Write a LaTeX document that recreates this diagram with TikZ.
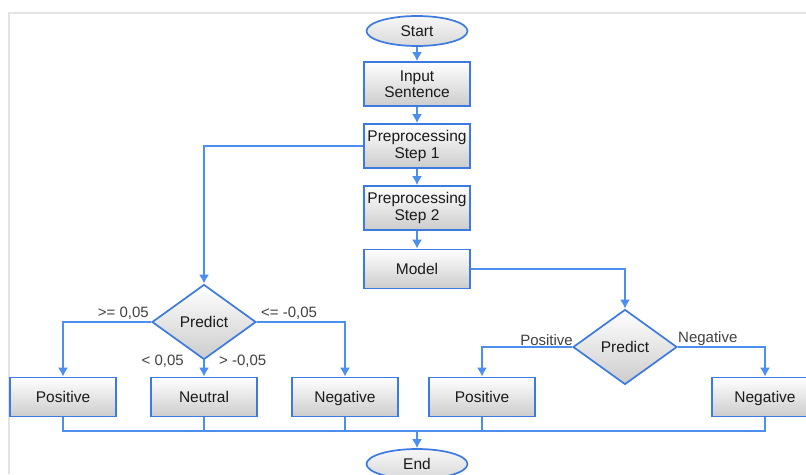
\documentclass[tikz,border=0pt]{standalone}
\usepackage{fontspec}
\setmainfont{Liberation Sans}
\usetikzlibrary{shapes.geometric,arrows.meta}

\definecolor{flowline}{HTML}{4D8FF0}
\definecolor{boxline}{HTML}{3C7AE0}
\definecolor{boxtext}{HTML}{1A1A1A}
\definecolor{labeltext}{HTML}{404040}

\tikzset{
  procbox/.style={draw=boxline, line width=1.7pt, top color=white, bottom color=gray!40,
    minimum width=106pt, minimum height=39pt, align=center, inner sep=1pt,
    text=boxtext, font=\fontsize{15.5}{16.5}\selectfont},
  leafbox/.style={procbox, text height=12pt, text depth=1pt},
  termbox/.style={ellipse, draw=boxline, line width=1.7pt, top color=gray!6, bottom color=gray!30,
    minimum width=101pt, minimum height=30pt, inner sep=0pt,
    text=boxtext, font=\fontsize{15.5}{16.5}\selectfont},
  decbox/.style={diamond, draw=boxline, line width=1.7pt, top color=white, bottom color=gray!40,
    minimum width=104pt, minimum height=75pt, inner sep=0pt,
    text=boxtext, font=\fontsize{15.5}{16.5}\selectfont},
  cond/.style={text=labeltext, inner sep=0pt, font=\fontsize{15}{16}\selectfont},
  flow/.style={flowline, line width=1.6pt, -{Latex[length=9pt,width=10pt]}},
  link/.style={flowline, line width=1.6pt}
}

\begin{document}
\begin{tikzpicture}[x=1pt,y=-1pt]
            \useasboundingbox (0,0) rectangle (806,474);
            \draw[gray!22,line width=2pt] (9,474) -- (9,13) -- (806,13);

            % main column
            \node[termbox] (start) at (417,31) {Start};
            \node[procbox,minimum height=44pt] (input) at (417,84) {Input\\Sentence};
            \node[procbox,minimum height=44pt] (prep1) at (417,146) {Preprocessing\\Step 1};
            \node[procbox,minimum height=44pt] (prep2) at (417,208) {Preprocessing\\Step 2};
            \node[leafbox] (model) at (417,269) {Model};

            % two predictors
            \node[decbox] (predL) at (204,322) {Predict};
            \node[decbox] (predR) at (625,347) {Predict};

            % outcomes
            \node[leafbox] (posL) at (63,397) {Positive};
            \node[leafbox] (neuL) at (204,397) {Neutral};
            \node[leafbox] (negL) at (345,397) {Negative};
            \node[leafbox] (posR) at (482,397) {Positive};
            \node[leafbox] (negR) at (765,397) {Negative};

            \node[termbox] (end) at (417,464) {End};
            \coordinate (merge) at (417,431);

            \draw[flow] (start) -- (input);
            \draw[flow] (input) -- (prep1);
            \draw[flow] (prep1) -- (prep2);
            \draw[flow] (prep2) -- (model);
            \draw[flow] (prep1.west) -| (predL.north);
            \draw[flow] (model.east) -| (predR.north);

            \draw[flow] (predL.west) -| (posL.north);
            \draw[flow] (predL.east) -| (negL.north);
            \draw[flow] (predL.south) -- (neuL.north);
            \draw[flow] (predR.west) -| (posR.north);
            \draw[flow] (predR.east) -| (negR.north);

            \node[cond,anchor=base east] (geL) at (149,317) {>= 0,05};
            \node[cond,anchor=base west] (leL) at (261,317) {<= -0,05};
            \node[cond,anchor=base east] (ltL) at (184,365) {< 0,05};
            \node[cond,anchor=base west] (gtL) at (219,365) {> -0,05};
            \node[cond,anchor=base east] (posLab) at (573,345) {Positive};
            \node[cond,anchor=base west] (negLab) at (678,342) {Negative};

            % collect everything into End
            \draw[link] (posL.south) |- (merge) -| (negR.south);
            \foreach \n in {neuL,negL,posR}
                \draw[link] (\n.south) -- (\n.south |- merge);
            \draw[flow] (merge) -- (end);
        \end{tikzpicture}
\end{document}
